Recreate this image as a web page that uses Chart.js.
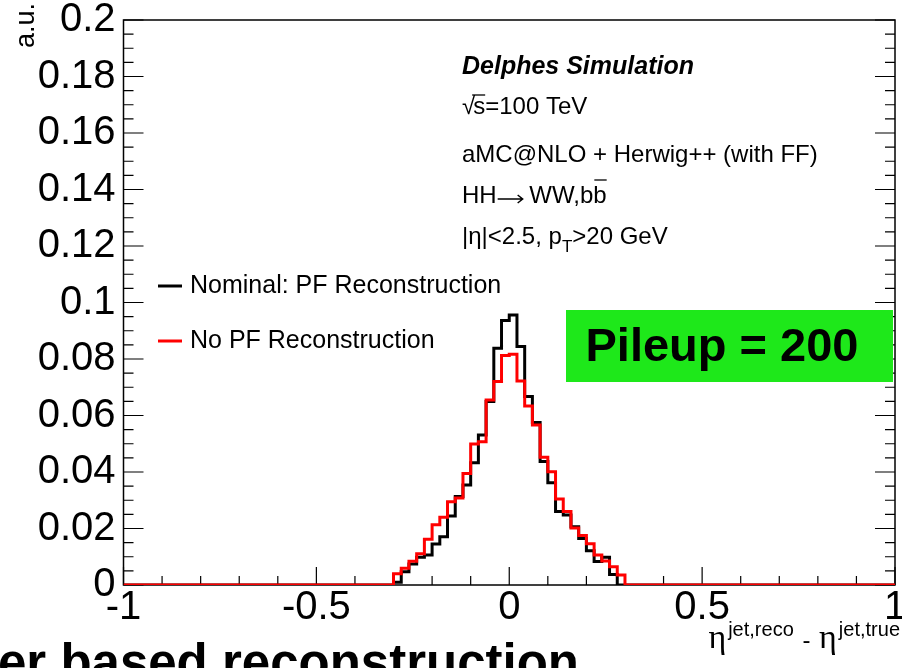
<!DOCTYPE html>
<html>
<head>
<meta charset="utf-8">
<script src="https://cdn.jsdelivr.net/npm/chart.js@4.4.1/dist/chart.umd.min.js"></script>
<style>
  html, body { margin: 0; padding: 0; background: #fff; }
  canvas { display: block; }
</style>
</head>
<body>
<canvas id="chart" width="902" height="668"></canvas>
<script>
// bin lower edges (width 0.02), histogram runs from -0.3 to 0.3
const binLow = [-0.30, -0.28, -0.26, -0.24, -0.22, -0.20, -0.18, -0.16, -0.14, -0.12,
                -0.10, -0.08, -0.06, -0.04, -0.02, 0.00, 0.02, 0.04, 0.06, 0.08,
                0.10, 0.12, 0.14, 0.16, 0.18, 0.20, 0.22, 0.24, 0.26, 0.28];
const histHigh = 0.30;

// Nominal: PF Reconstruction (black)
const nominalPF = [0.0010, 0.0047, 0.0074, 0.0098, 0.0106, 0.0145, 0.0171, 0.0244, 0.0313, 0.0354,
                   0.0433, 0.0531, 0.0650, 0.0838, 0.0936, 0.0956, 0.0844, 0.0667, 0.0575, 0.0437,
                   0.0362, 0.0260, 0.0248, 0.0206, 0.0165, 0.0121, 0.0083, 0.0098, 0.0037, 0.0000];

// No PF Reconstruction (red)
const noPF = [0.0040, 0.0059, 0.0084, 0.0111, 0.0162, 0.0213, 0.0240, 0.0295, 0.0308, 0.0395,
              0.0499, 0.0507, 0.0655, 0.0720, 0.0812, 0.0817, 0.0722, 0.0634, 0.0566, 0.0452,
              0.0401, 0.0304, 0.0260, 0.0202, 0.0175, 0.0146, 0.0106, 0.0085, 0.0065, 0.0035];

const xRange = [-1, 1];
const yRange = [0, 0.2];

const SANS = "'Liberation Sans', Arial, sans-serif";
const SERIF = "'Liberation Serif', 'DejaVu Serif', serif";

function toSteps(vals) {
  const pts = [{ x: xRange[0], y: 0 }];
  binLow.forEach((x, i) => pts.push({ x: x, y: vals[i] }));
  pts.push({ x: histHigh, y: 0 });
  pts.push({ x: xRange[1], y: 0 });
  return pts;
}

// frame + inner ticks (ROOT style)
const framePlugin = {
  id: 'frame',
  beforeDatasetsDraw(chart) {
    const { ctx, chartArea: a, scales } = chart;
    const xs = scales.x, ys = scales.y;
    ctx.save();
    ctx.strokeStyle = '#000';
    ctx.lineWidth = 1.5;
    ctx.strokeRect(a.left, a.top, a.right - a.left, a.bottom - a.top);
    ctx.lineWidth = 1.2;
    ctx.beginPath();
    for (let i = 0; i <= 40; i++) {
      const py = ys.getPixelForValue(i * 0.005);
      const len = i % 4 === 0 ? 20 : 10;
      ctx.moveTo(a.left, py); ctx.lineTo(a.left + len, py);
      ctx.moveTo(a.right, py); ctx.lineTo(a.right - len, py);
    }
    for (let i = -10; i <= 10; i++) {
      const px = xs.getPixelForValue(i * 0.1);
      const len = i % 5 === 0 ? 18 : 9;
      ctx.moveTo(px, a.bottom); ctx.lineTo(px, a.bottom - len);
    }
    ctx.stroke();
    ctx.restore();
  },
  afterDraw(chart) {
    const ctx = chart.ctx;
    ctx.save();
    ctx.fillStyle = '#000';

    // y title
    ctx.save();
    ctx.translate(27, 0);
    ctx.rotate(-Math.PI / 2);
    ctx.font = '27px ' + SANS;
    ctx.textAlign = 'right';
    ctx.textBaseline = 'middle';
    ctx.fillText('a.u.', -3, 0);
    ctx.restore();

    // legend
    ctx.lineWidth = 3;
    ctx.font = '25px ' + SANS;
    ctx.textAlign = 'left';
    ctx.textBaseline = 'middle';
    [['Nominal: PF Reconstruction', '#000', 286], ['No PF Reconstruction', '#ff0000', 341]].forEach(([t, c, y]) => {
      ctx.strokeStyle = c;
      ctx.beginPath(); ctx.moveTo(158, y); ctx.lineTo(182, y); ctx.stroke();
      ctx.fillText(t, 190, y);
    });

    // annotations
    const ax = 462;
    ctx.font = 'italic bold 25px ' + SANS;
    ctx.fillText('Delphes Simulation', ax, 67);
    ctx.font = '24px ' + SANS;
    // sqrt(s)
    ctx.fillText('\u221A', ax, 107);
    let w = ctx.measureText('\u221A').width;
    ctx.fillText('s=100 TeV', ax + w - 2, 107);
    const sw = ctx.measureText('s').width;
    ctx.lineWidth = 1.3;
    ctx.strokeStyle = '#000';
    ctx.beginPath(); ctx.moveTo(ax + w - 3, 95); ctx.lineTo(ax + w - 2 + sw, 95); ctx.stroke();

    ctx.fillText('aMC@NLO + Herwig++ (with FF)', ax, 155);

    ctx.fillText('HH', ax, 196);
    w = ctx.measureText('HH').width;
    // arrow
    ctx.lineWidth = 1.5;
    ctx.beginPath();
    ctx.moveTo(ax + w + 1, 199); ctx.lineTo(ax + w + 26, 199);
    ctx.moveTo(ax + w + 21, 195); ctx.lineTo(ax + w + 26, 199); ctx.lineTo(ax + w + 21, 203);
    ctx.stroke();
    const ww = ' WW,b';
    ctx.fillText(ww, ax + w + 26, 196);
    w += 26 + ctx.measureText(ww).width;
    ctx.fillText('b', ax + w, 196);
    const bw = ctx.measureText('b').width;
    ctx.lineWidth = 1.3;
    ctx.beginPath(); ctx.moveTo(ax + w + 1, 180); ctx.lineTo(ax + w + bw, 180); ctx.stroke();

    const e1 = '|\u03B7|<2.5, p';
    ctx.fillText(e1, ax, 237);
    w = ctx.measureText(e1).width;
    ctx.font = '17px ' + SANS;
    ctx.fillText('T', ax + w, 247);
    const tw = ctx.measureText('T').width;
    ctx.font = '24px ' + SANS;
    ctx.fillText('>20 GeV', ax + w + tw, 237);

    // pileup box
    ctx.fillStyle = '#1ee81a';
    ctx.fillRect(566, 310, 327, 72);
    ctx.fillStyle = '#000';
    ctx.font = 'bold 47px ' + SANS;
    ctx.textAlign = 'center';
    ctx.fillText('Pileup = 200', 722, 348);

    // x title: eta^{jet,reco} - eta^{jet,true}, right aligned at 900
    ctx.textAlign = 'left';
    ctx.textBaseline = 'alphabetic';
    const parts = [
      ['\u03B7', '34px ' + SERIF, 648],
      ['jet,reco', '20px ' + SANS, 636],
      [' - ', '24px ' + SANS, 648],
      ['\u03B7', '34px ' + SERIF, 648],
      ['jet,true', '20px ' + SANS, 636]
    ];
    let total = 0;
    parts.forEach(p => { ctx.font = p[1]; total += ctx.measureText(p[0]).width + 2; });
    let x = 902 - total;
    parts.forEach(p => {
      ctx.font = p[1];
      ctx.fillText(p[0], x, p[2]);
      x += ctx.measureText(p[0]).width + 2;
    });

    // slide caption, cut at the bottom
    ctx.font = 'bold 51px ' + SANS;
    ctx.fillText('er based reconstruction', -2, 680);

    ctx.restore();
  }
};

new Chart(document.getElementById('chart').getContext('2d'), {
  type: 'line',
  data: {
    datasets: [
      {
        label: 'No PF Reconstruction',
        data: toSteps(noPF),
        borderColor: '#ff0000',
        borderWidth: 3,
        stepped: 'before',
        pointRadius: 0,
        fill: false,
        order: 0
      },
      {
        label: 'Nominal: PF Reconstruction',
        data: toSteps(nominalPF),
        borderColor: '#000000',
        borderWidth: 3,
        stepped: 'before',
        pointRadius: 0,
        fill: false,
        order: 1
      }
    ]
  },
  options: {
    responsive: false,
    animation: false,
    devicePixelRatio: 1,
    layout: { padding: { left: 0, right: 7, top: 20, bottom: 0 } },
    plugins: { legend: { display: false }, tooltip: { enabled: false } },
    scales: {
      x: {
        type: 'linear',
        min: xRange[0],
        max: xRange[1],
        grid: { display: false, drawTicks: false },
        border: { display: false },
        ticks: {
          stepSize: 0.5,
          autoSkip: false,
          maxRotation: 0,
          padding: 3,
          color: '#000',
          font: { family: SANS, size: 40, lineHeight: 1 },
          callback: v => String(+v.toFixed(2))
        },
        afterFit(s) { s.height = 83; s.paddingLeft = 0; s.paddingRight = 0; }
      },
      y: {
        min: yRange[0],
        max: yRange[1],
        grid: { display: false, drawTicks: false },
        border: { display: false },
        ticks: {
          stepSize: 0.02,
          autoSkip: false,
          padding: 8,
          color: '#000',
          font: { family: SANS, size: 40, lineHeight: 1 },
          callback: v => String(+v.toFixed(3))
        },
        afterFit(s) { s.width = 123.5; s.paddingTop = 0; s.paddingBottom = 0; }
      }
    }
  },
  plugins: [framePlugin]
});
</script>
</body>
</html>
